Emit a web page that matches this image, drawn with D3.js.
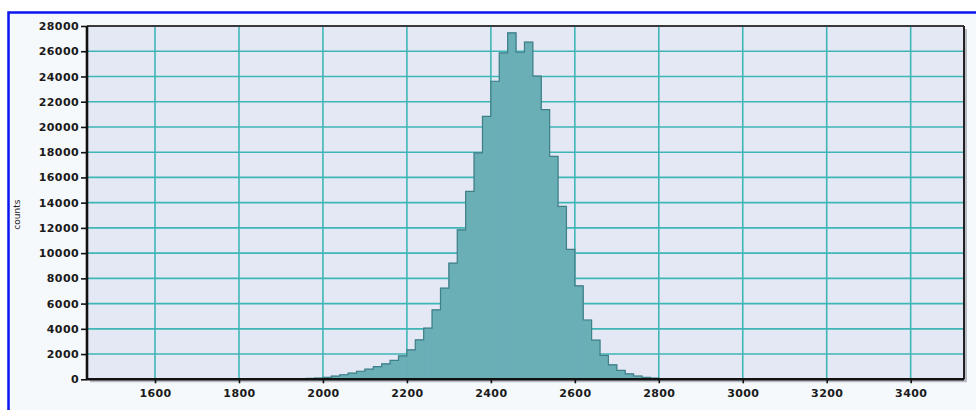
<!DOCTYPE html>
<html>
<head>
<meta charset="utf-8">
<script src="https://cdn.jsdelivr.net/npm/d3@7"></script>
<style>
  html, body { margin: 0; padding: 0; background: #ffffff; }
  svg { display: block; }
</style>
</head>
<body>
<svg id="histogram"></svg>
<script>
////////////////////////////////////////////////////////////////////////////////
//////////////////////////////////////////////////////////////////////// Data
////////////////////////////////////////////////////////////////////////////////

// left edge of every bin (bin width 20)
const binStarts = [
  1840, 1860, 1880, 1900, 1920, 1940, 1960, 1980,
  2000, 2020, 2040, 2060, 2080, 2100, 2120, 2140, 2160, 2180,
  2200, 2220, 2240, 2260, 2280, 2300, 2320, 2340, 2360, 2380,
  2400, 2420, 2440, 2460, 2480, 2500, 2520, 2540, 2560, 2580,
  2600, 2620, 2640, 2660, 2680, 2700, 2720, 2740, 2760, 2780,
  2800, 2820, 2840, 2860
];
const binWidth = 20;

// counts per bin
const counts = [
  10, 15, 20, 25, 35, 50, 70, 100,
  160, 250, 360, 490, 640, 800, 1000, 1230, 1500, 1850,
  2330, 3120, 4050, 5500, 7220, 9200, 11850, 14890, 17940, 20840,
  23620, 25870, 27460, 25920, 26720, 24020, 21370, 17670, 13700, 10300,
  7400, 4700, 3100, 1900, 1150, 700, 430, 260, 150, 90,
  50, 30, 15, 10
];

// tick labels
const xTicks = [1600, 1800, 2000, 2200, 2400, 2600, 2800, 3000, 3200, 3400];
const yTicks = [0, 2000, 4000, 6000, 8000, 10000, 12000, 14000,
                16000, 18000, 20000, 22000, 24000, 26000, 28000];
const xDomain = [1438, 3527];
const yDomain = [0, 28000];
const yLabel = "counts";

////////////////////////////////////////////////////////////////////////////////
////////////////////////////////////////////////////////////////////// Layout
////////////////////////////////////////////////////////////////////////////////

const W = 976;
const H = 410;
const plot = { left: 87, top: 26, right: 964, bottom: 379.3 };

const svg = d3.select("#histogram")
              .attr("width", W)
              .attr("height", H);

// outer blue frame
svg.append("rect")
     .attr("x", 8.5)
     .attr("y", 12.5)
     .attr("width", W + 20)
     .attr("height", H + 20)
     .attr("fill", "#f6f9fc")
     .attr("stroke", "#0a14ee")
     .attr("stroke-width", 2.5);

const xScale = d3.scaleLinear()
                 .domain(xDomain)
                 .range([plot.left, plot.right]);
const yScale = d3.scaleLinear()
                 .domain(yDomain)
                 .range([plot.bottom, plot.top]);

// plot shadow + background
svg.append("rect")
     .attr("x", plot.left + 3)
     .attr("y", plot.top + 3)
     .attr("width", plot.right - plot.left)
     .attr("height", plot.bottom - plot.top)
     .attr("fill", "#b9bcc4");
svg.append("rect")
     .attr("x", plot.left)
     .attr("y", plot.top)
     .attr("width", plot.right - plot.left)
     .attr("height", plot.bottom - plot.top)
     .attr("fill", "#e4e8f4");

// grid
const grid = svg.append("g")
                  .attr("stroke", "#3fb6b6")
                  .attr("stroke-width", 1.6);
grid.selectAll(".vgrid")
  .data(xTicks)
  .join("line")
    .attr("class", "vgrid")
    .attr("x1", d => xScale(d))
    .attr("x2", d => xScale(d))
    .attr("y1", plot.top)
    .attr("y2", plot.bottom);
grid.selectAll(".hgrid")
  .data(yTicks.filter(d => d > 0 && d < yDomain[1]))
  .join("line")
    .attr("class", "hgrid")
    .attr("x1", plot.left)
    .attr("x2", plot.right)
    .attr("y1", d => yScale(d))
    .attr("y2", d => yScale(d));

// bars (stroked in their own colour so no seams show between them)
const bins = binStarts.map((b, i) => ({ x0: b, x1: b + binWidth, n: counts[i] }));
svg.append("g")
  .selectAll("rect")
  .data(bins)
  .join("rect")
    .attr("x", d => xScale(d.x0))
    .attr("y", d => yScale(d.n))
    .attr("width", d => xScale(d.x1) - xScale(d.x0))
    .attr("height", d => yScale(0) - yScale(d.n))
    .attr("fill", "#6aaeb6")
    .attr("stroke", "#6aaeb6")
    .attr("stroke-width", 0.7);

// step outline on top of the bars
const outline = [{ x: bins[0].x0, n: 0 }]
  .concat(bins.map(d => ({ x: d.x0, n: d.n })))
  .concat([{ x: bins[bins.length - 1].x1, n: bins[bins.length - 1].n },
           { x: bins[bins.length - 1].x1, n: 0 }]);
svg.append("path")
     .datum(outline)
     .attr("fill", "none")
     .attr("stroke", "#3f7f88")
     .attr("stroke-width", 1.2)
     .attr("d", d3.line()
                  .x(d => xScale(d.x))
                  .y(d => yScale(d.n))
                  .curve(d3.curveStepAfter));

// plot border: top and right
svg.append("line")
     .attr("x1", plot.left).attr("x2", plot.right)
     .attr("y1", plot.top).attr("y2", plot.top)
     .attr("stroke", "#3a3a3a").attr("stroke-width", 2);
svg.append("line")
     .attr("x1", plot.right).attr("x2", plot.right)
     .attr("y1", plot.top).attr("y2", plot.bottom)
     .attr("stroke", "#222").attr("stroke-width", 2);

////////////////////////////////////////////////////////////////////////////////
//////////////////////////////////////////////////////////////////////// Axes
////////////////////////////////////////////////////////////////////////////////

const xAxis = d3.axisBottom(xScale)
                .tickValues(xTicks)
                .tickSize(4)
                .tickPadding(6)
                .tickFormat(d3.format("d"));
const yAxis = d3.axisLeft(yScale)
                .tickValues(yTicks)
                .tickSize(6)
                .tickPadding(2)
                .tickFormat(d3.format("d"));

const gx = svg.append("g")
                .attr("transform", `translate(0, ${plot.bottom})`)
                .call(xAxis);
const gy = svg.append("g")
                .attr("transform", `translate(${plot.left}, 0)`)
                .call(yAxis);

[gx, gy].forEach(g => {
  g.select(".domain")
     .attr("stroke", "#111")
     .attr("stroke-width", 2.6);
  g.selectAll(".tick line")
     .attr("stroke", "#111")
     .attr("stroke-width", 1.6);
  g.selectAll(".tick text")
     .attr("fill", "#1a1a1a")
     .style("font-family", "'DejaVu Sans', Verdana, sans-serif")
     .style("font-size", "11px")
     .style("font-weight", "bold")
     .style("letter-spacing", "0.4px");
});
gx.select(".domain").attr("d", `M${plot.left},0H${plot.right}`);
gy.select(".domain").attr("d", `M0,${plot.bottom}V${plot.top}`);

// y label
svg.append("text")
     .attr("transform", `translate(20, ${(plot.top + plot.bottom) / 2 + 12}) rotate(-90)`)
     .style("text-anchor", "middle")
     .style("font-family", "'DejaVu Sans', Verdana, sans-serif")
     .style("font-size", "9px")
     .attr("fill", "#222")
     .text(yLabel);
</script>
</body>
</html>
